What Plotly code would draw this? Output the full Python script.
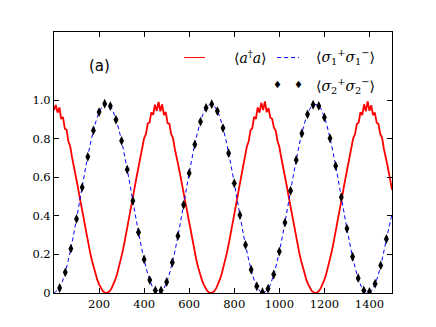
import plotly.graph_objects as go

# ---------------- data ----------------
# photon number <a^dagger a>, sampled every 8 time units from 0 to 1496, plus 1500
red_x = list(range(0, 1497, 8)) + [1500]
red_y = [
    # 0 .. 232
    0.948, 0.975, 0.935, 0.962, 0.902, 0.912, 0.852, 0.846, 0.785, 0.760, 0.704,
    0.661, 0.612, 0.561, 0.509, 0.457, 0.405, 0.353, 0.304, 0.257, 0.212, 0.170,
    0.132, 0.098, 0.069, 0.045, 0.025, 0.011, 0.003, 0.000,
    # 240 .. 464
    0.003, 0.011, 0.025, 0.045, 0.069, 0.098, 0.132, 0.170, 0.212, 0.257, 0.304,
    0.353, 0.405, 0.457, 0.509, 0.561, 0.612, 0.661,
    0.713, 0.747, 0.803, 0.823, 0.878, 0.884, 0.936, 0.924, 0.976, 0.944, 0.990,
    # 472 .. 696
    0.942, 0.978, 0.922, 0.938, 0.881, 0.877, 0.823, 0.803, 0.748, 0.712,
    0.661, 0.612, 0.561, 0.509, 0.457, 0.405, 0.353, 0.304, 0.257, 0.212, 0.170,
    0.132, 0.098, 0.069, 0.045, 0.025, 0.011, 0.003, 0.000,
    # 704 .. 928
    0.003, 0.011, 0.025, 0.045, 0.069, 0.098, 0.132, 0.170, 0.212, 0.257, 0.304,
    0.353, 0.405, 0.457, 0.509, 0.561, 0.612, 0.661,
    0.703, 0.760, 0.786, 0.843, 0.855, 0.913, 0.903, 0.962, 0.935, 0.986, 0.948,
    # 936 .. 1160
    0.993, 0.937, 0.958, 0.909, 0.903, 0.857, 0.841, 0.788, 0.758, 0.705,
    0.661, 0.612, 0.561, 0.509, 0.457, 0.405, 0.353, 0.304, 0.257, 0.212, 0.170,
    0.132, 0.098, 0.069, 0.045, 0.025, 0.011, 0.003, 0.000,
    # 1168 .. 1392
    0.003, 0.011, 0.025, 0.045, 0.069, 0.098, 0.132, 0.170, 0.212, 0.257, 0.304,
    0.353, 0.405, 0.457, 0.509, 0.561, 0.612, 0.661,
    0.712, 0.748, 0.803, 0.824, 0.877, 0.883, 0.937, 0.922, 0.978, 0.942, 0.993,
    # 1400 .. 1496, 1500
    0.945, 0.973, 0.922, 0.935, 0.883, 0.876, 0.823, 0.804, 0.748, 0.711,
    0.661, 0.612, 0.561, 0.535,
]

# atom 1 excitation <sigma1+ sigma1->, every 25 time units
blue_x = list(range(0, 1501, 25))
blue_y = [
    0.000, 0.028, 0.108, 0.232, 0.385, 0.550, 0.708, 0.841, 0.935, 0.978,
    0.966, 0.899, 0.787, 0.640, 0.477, 0.315, 0.173, 0.067, 0.009, 0.005,
    0.057, 0.158, 0.296, 0.457, 0.621, 0.770, 0.888, 0.960, 0.979, 0.943,
    0.855, 0.725, 0.569, 0.404, 0.249, 0.121, 0.035, 0.000, 0.022, 0.096,
    0.215, 0.365, 0.530, 0.690, 0.827, 0.926, 0.976, 0.970, 0.910, 0.802,
    0.659, 0.497, 0.334, 0.188, 0.077, 0.013, 0.003, 0.048, 0.143, 0.278,
    0.410,
]

# atom 2 excitation <sigma2+ sigma2->, markers every 25 time units
dia_x = list(range(25, 1476, 25))
dia_y = [
    0.026, 0.107, 0.230, 0.384, 0.548, 0.706, 0.843, 0.938, 0.981,
    0.969, 0.898, 0.789, 0.640, 0.478, 0.315, 0.174, 0.067, 0.013, 0.013,
    0.057, 0.158, 0.296, 0.457, 0.621, 0.770, 0.888, 0.960, 0.979, 0.943,
    0.855, 0.725, 0.569, 0.404, 0.249, 0.121, 0.035, 0.004, 0.022, 0.096,
    0.215, 0.365, 0.530, 0.690, 0.827, 0.926, 0.976, 0.970, 0.910, 0.802,
    0.659, 0.497, 0.334, 0.188, 0.077, 0.013, 0.006, 0.048, 0.143, 0.280,
]

x_ticks = [200, 400, 600, 800, 1000, 1200, 1400]
x_labels = ["200", "400", "600", "800", "1000", "1200", "1400"]
y_ticks = [0, 0.2, 0.4, 0.6, 0.8, 1.0]
y_labels = ["0", "0.2", "0.4", "0.6", "0.8", "1.0"]

# ---------------- figure ----------------
fig = go.Figure()
fig.add_trace(go.Scatter(x=red_x, y=red_y, mode="lines",
                         line=dict(color="#ff0000", width=1.8),
                         name="<a†a>"))
fig.add_trace(go.Scatter(x=blue_x, y=blue_y, mode="lines",
                         line=dict(color="#0000ff", width=1, dash="4px,3px", shape="spline"),
                         name="<σ1+σ1->"))
fig.add_trace(go.Scatter(x=dia_x, y=dia_y, mode="markers",
                         marker=dict(symbol="diamond-tall", size=7, color="black",
                                     line=dict(width=0)),
                         name="<σ2+σ2->"))

serif = "DejaVu Serif"
axis_common = dict(showline=True, linecolor="black", linewidth=1, mirror="ticks",
                   ticks="inside", ticklen=5, tickcolor="black", tickwidth=1,
                   showgrid=False, zeroline=False,
                   tickfont=dict(family=serif, size=11.5, color="black"))

# the page body adds an 8 px offset, so the figure is 8 px smaller and margins shifted
fig.update_layout(
    width=428, height=319,
    margin=dict(l=46, r=44, t=24, b=34),
    paper_bgcolor="white", plot_bgcolor="white",
    showlegend=False,
    font=dict(family=serif, color="black"),
    xaxis=dict(range=[0, 1500], tickvals=x_ticks, ticktext=x_labels, **axis_common),
    yaxis=dict(range=[0, 1.353], tickvals=y_ticks, ticktext=y_labels, **axis_common),
)

# legend drawn by hand (matplotlib style, two rows)
fig.add_shape(type="line", xref="paper", yref="paper", x0=0.385, x1=0.447, y0=0.902, y1=0.902,
              line=dict(color="#ff0000", width=1))
fig.add_shape(type="line", xref="paper", yref="paper", x0=0.660, x1=0.725, y0=0.902, y1=0.902,
              line=dict(color="#0000ff", width=1, dash="4px,3px"))
leg_font = dict(family=serif, size=14, color="black")
fig.add_annotation(xref="paper", yref="paper", x=0.527, y=0.904, xanchor="left", yanchor="middle",
                   text="⟨<i>a</i><sup>†</sup><i>a</i>⟩", showarrow=False, font=leg_font)
fig.add_annotation(xref="paper", yref="paper", x=0.769, y=0.904, xanchor="left", yanchor="middle",
                   text="⟨<i>σ</i><sub>1</sub><sup>+</sup><i>σ</i><sub>1</sub><sup>−</sup>⟩",
                   showarrow=False, font=leg_font)
fig.add_annotation(xref="paper", yref="paper", x=0.769, y=0.793, xanchor="left", yanchor="middle",
                   text="⟨<i>σ</i><sub>2</sub><sup>+</sup><i>σ</i><sub>2</sub><sup>−</sup>⟩",
                   showarrow=False, font=leg_font)
for xp in (0.662, 0.723):
    fig.add_annotation(xref="paper", yref="paper", x=xp, y=0.797, xanchor="center", yanchor="middle",
                       text="♦", showarrow=False,
                       font=dict(family="DejaVu Sans", size=10, color="black"))

fig.add_annotation(xref="paper", yref="paper", x=0.1346, y=0.8697, xanchor="center", yanchor="middle",
                   text="(a)", showarrow=False,
                   font=dict(family="DejaVu Sans", size=15, color="black"))

fig.write_html("out.html")
